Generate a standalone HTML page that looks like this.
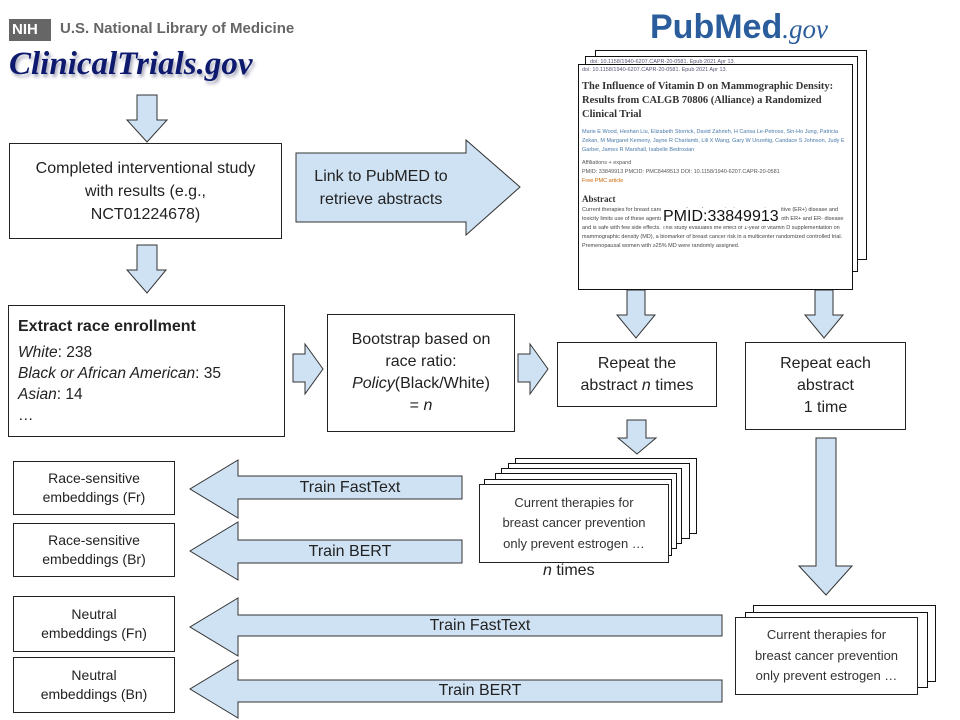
<!DOCTYPE html>
<html><head><meta charset="utf-8"><style>
body{margin:0;width:960px;height:720px;background:#fff;position:relative;overflow:hidden;font-family:"Liberation Sans",Arial,sans-serif;color:#222}
.b{position:absolute;border:1.3px solid #222;background:#fff;box-sizing:border-box;display:flex;align-items:center;justify-content:center;text-align:center}
.t{position:absolute;white-space:nowrap}
svg{position:absolute;left:0;top:0}
.pg{position:absolute;border:1.3px solid #111;background:#fff;box-sizing:border-box}
.sm{font-size:5.5px;color:#557;line-height:9px}
</style></head><body>
<svg width="960" height="720">
<g fill="#cfe2f3" stroke="#333" stroke-width="1">
<polygon points="137,95 157,95 157,120 167,120 147,142 127,120 137,120"/>
<polygon points="137,245 157,245 157,270 166,270 147,293 127,270 137,270"/>
<polygon points="296,153 466,153 466,140 520,187 466,235 466,222 296,222"/>
<polygon points="293,354 305,354 305,344 323,369 305,394 305,382 293,382"/>
<polygon points="518,354 530,354 530,344 548,369 530,394 530,382 518,382"/>
<polygon points="627,290 645,290 645,315 655,315 636,338 617,315 627,315"/>
<polygon points="815,290 833,290 833,315 843,315 824,338 805,315 815,315"/>
<polygon points="627,420 646,420 646,438 656,438 637,454 618,438 627,438"/>
<polygon points="816,438 836,438 836,566 852,566 826,595 799,566 816,566"/>
<polygon points="462,476 238,476 238,460 190,489 238,518 238,499 462,499"/>
<polygon points="462,540 238,540 238,522 190,551 238,580 238,563 462,563"/>
<polygon points="722,615 238,615 238,598 190,627 238,656 238,636 722,636"/>
<polygon points="722,680 238,680 238,660 190,689 238,718 238,702 722,702"/>
</g>
</svg>
<!-- logos -->
<div class="t" style="left:9px;top:19px;width:42px;height:22px;background:#666;color:#fff;font-weight:bold;font-size:15px;line-height:22px;padding-left:3px;box-sizing:border-box">NIH</div>
<div class="t" style="left:60px;top:20px;font-size:15px;font-weight:bold;color:#666">U.S. National Library of Medicine</div>
<div class="t" style="left:9px;top:46px;font-family:'Liberation Serif',serif;font-style:italic;font-weight:bold;font-size:33px;color:#0d1a6e;text-shadow:2px 3px 3px #aab">ClinicalTrials.gov</div>
<div class="t" style="left:650px;top:8px;font-size:34px;font-weight:bold;color:#2b5d9c">PubMed<span style="font-family:'Liberation Serif',serif;font-style:italic;font-weight:normal;font-size:27px">.gov</span></div>
<!-- pubmed page stack -->
<div class="pg" style="left:595px;top:50px;width:272px;height:210px"></div>
<div class="pg" style="left:585px;top:56px;width:273px;height:216px"><div class="sm" style="padding:1px 4px">doi: 10.1158/1940-6207.CAPR-20-0581. Epub 2021 Apr 13.</div></div>
<div class="pg" style="left:578px;top:64px;width:275px;height:226px;overflow:hidden">
<div class="sm" style="padding:1px 3px">doi: 10.1158/1940-6207.CAPR-20-0581. Epub 2021 Apr 13.</div>
<div style="font-family:'Liberation Serif',serif;font-weight:bold;font-size:10.5px;line-height:14px;padding:4px 3px;color:#333">The Influence of Vitamin D on Mammographic Density: Results from CALGB 70806 (Alliance) a Randomized Clinical Trial</div>
<div class="sm" style="padding:2px 3px;color:#4a7aab">Marie E Wood, Heshan Liu, Elizabeth Storrick, David Zahrieh, H Carisa Le-Petross, Sin-Ho Jung, Patricia Zekan, M Margaret Kemeny, Jayne R Charlamb, Lili X Wang, Gary W Unzeitig, Candace S Johnson, Judy E Garber, James R Marshall, Isabelle Bedrosian</div>
<div class="sm" style="padding:2px 3px;color:#555">Affiliations + expand<br>PMID: 33849913 PMCID: PMC8449513 DOI: 10.1158/1940-6207.CAPR-20-0581<br><span style="color:#c60">Free PMC article</span></div>
<div style="font-family:'Liberation Serif',serif;font-weight:bold;font-size:9px;padding:6px 3px 2px;color:#333">Abstract</div>
<div class="sm" style="padding:0 3px;color:#444">Current therapies for breast cancer prevention only prevent estrogen receptor positive (ER+) disease and toxicity limits use of these agents. Vitamin D is a potential prevention therapy for both ER+ and ER- disease and is safe with few side effects. This study evaluates the effect of 1-year of vitamin D supplementation on mammographic density (MD), a biomarker of breast cancer risk in a multicenter randomized controlled trial. Premenopausal women with ≥25% MD were randomly assigned.</div>
<div class="t" style="left:82px;top:143px;font-size:16px;color:#111;background:#fff;padding:0 2px">PMID:33849913</div>
</div>
<!-- boxes -->
<div class="b" style="left:9px;top:143px;width:273px;height:96px;font-size:16px;line-height:23px"><div>Completed interventional study<br>with results (e.g.,<br>NCT01224678)</div></div>
<div class="t" style="left:296px;top:165px;width:170px;text-align:center;font-size:16px;line-height:23px">Link to PubMED to<br>retrieve abstracts</div>
<div class="b" style="left:8px;top:305px;width:277px;height:132px;display:block;text-align:left;padding:10px 9px;font-size:15.5px;line-height:21px"><b style="font-size:16px;line-height:22px">Extract race enrollment</b><div style="margin-top:4px"><i>White</i>: 238<br><i>Black or African American</i>: 35<br><i>Asian</i>: 14<br>…</div></div>
<div class="b" style="left:327px;top:314px;width:188px;height:118px;font-size:16px;line-height:22px"><div>Bootstrap based on<br>race ratio:<br><i>Policy</i>(Black/White)<br>= <i>n</i></div></div>
<div class="b" style="left:557px;top:342px;width:160px;height:65px;font-size:16px;line-height:22px"><div>Repeat the<br>abstract <i>n</i> times</div></div>
<div class="b" style="left:745px;top:342px;width:161px;height:88px;font-size:16px;line-height:22px"><div>Repeat each<br>abstract<br>1 time</div></div>
<!-- n stack -->
<div class="pg" style="left:515px;top:458px;width:182px;height:76px"></div>
<div class="pg" style="left:508px;top:463px;width:182px;height:76px"></div>
<div class="pg" style="left:501px;top:468px;width:181px;height:76px"></div>
<div class="pg" style="left:495px;top:473px;width:182px;height:76px"></div>
<div class="pg" style="left:484px;top:479px;width:188px;height:77px"></div>
<div class="b" style="left:479px;top:484px;width:190px;height:79px;font-size:13px;line-height:20.5px;color:#333"><div>Current therapies for<br>breast cancer prevention<br>only prevent estrogen …</div></div>
<div class="t" style="left:543px;top:562px;font-size:16px"><i>n</i> times</div>
<!-- 1 stack -->
<div class="pg" style="left:753px;top:605px;width:183px;height:77px"></div>
<div class="pg" style="left:745px;top:612px;width:183px;height:76px"></div>
<div class="b" style="left:735px;top:617px;width:183px;height:78px;font-size:13px;line-height:20.5px;color:#333"><div>Current therapies for<br>breast cancer prevention<br>only prevent estrogen …</div></div>
<!-- train labels -->
<div class="t" style="left:238px;top:479px;width:224px;text-align:center;font-size:16px">Train FastText</div>
<div class="t" style="left:238px;top:543px;width:224px;text-align:center;font-size:16px">Train BERT</div>
<div class="t" style="left:238px;top:617px;width:484px;text-align:center;font-size:16px">Train FastText</div>
<div class="t" style="left:238px;top:682px;width:484px;text-align:center;font-size:16px">Train BERT</div>
<!-- embeddings -->
<div class="b" style="left:13px;top:461px;width:162px;height:54px;font-size:14px;line-height:19px"><div>Race-sensitive<br>embeddings (Fr)</div></div>
<div class="b" style="left:13px;top:523px;width:162px;height:54px;font-size:14px;line-height:19px"><div>Race-sensitive<br>embeddings (Br)</div></div>
<div class="b" style="left:13px;top:596px;width:162px;height:56px;font-size:14px;line-height:19px"><div>Neutral<br>embeddings (Fn)</div></div>
<div class="b" style="left:13px;top:657px;width:162px;height:56px;font-size:14px;line-height:19px"><div>Neutral<br>embeddings (Bn)</div></div>
</body></html>
